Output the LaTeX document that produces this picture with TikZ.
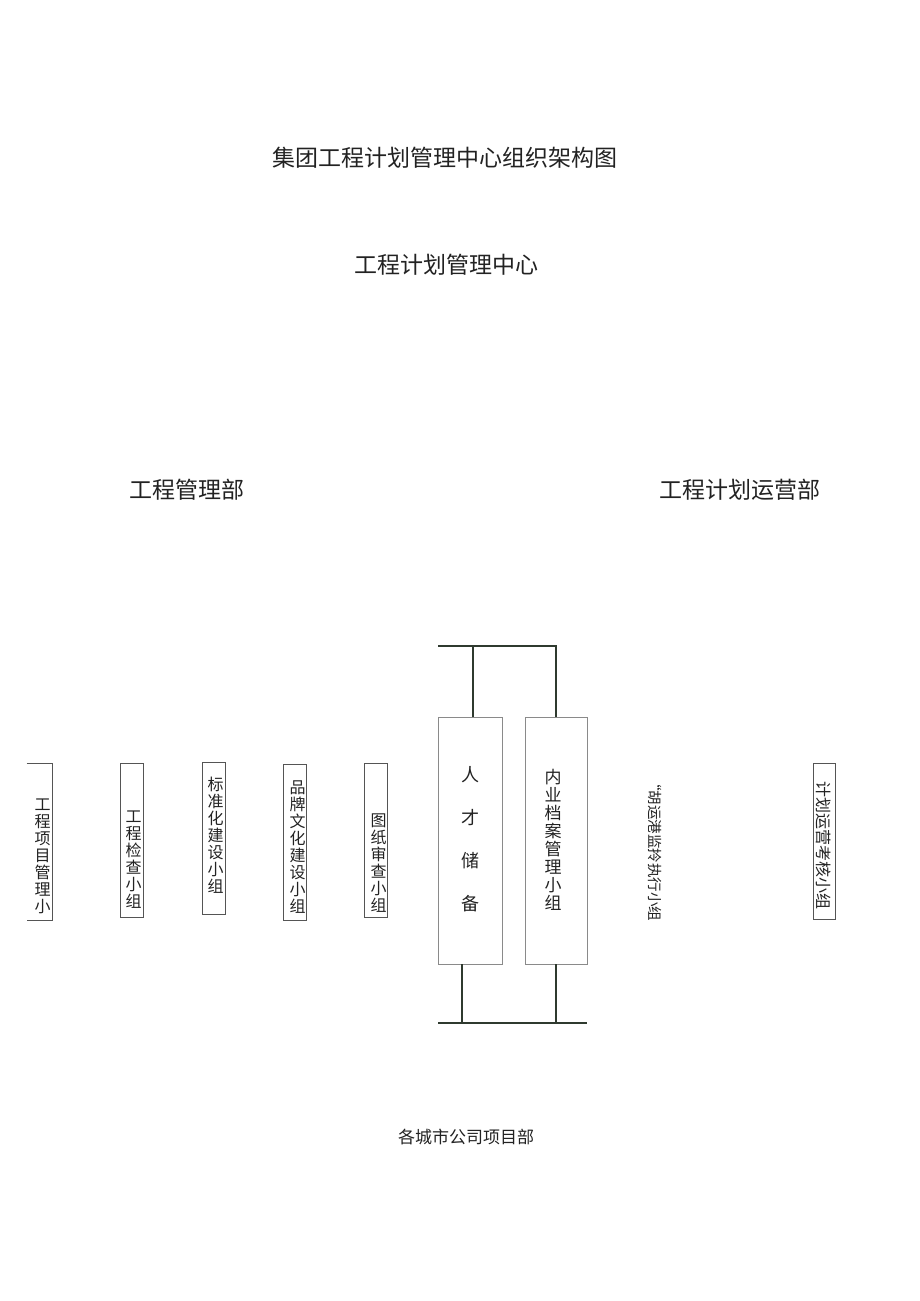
\documentclass[tikz,border=0pt]{standalone}
\usepackage{fontspec}
\setmainfont{Noto Sans CJK SC}
\XeTeXlinebreaklocale "zh"
\XeTeXlinebreakskip=0pt plus 1pt
\definecolor{ocLine}{HTML}{2F3A2F}
\definecolor{ocBox}{HTML}{555555}
\definecolor{ocFrame}{HTML}{8A8A8A}
\definecolor{ocText}{HTML}{222222}
\usetikzlibrary{positioning}
\tikzset{
  grpbox/.style={draw=ocBox, line width=0.9pt, inner sep=0pt, minimum width=23pt, minimum height=154pt},
  stackchars/.style={inner sep=0pt, anchor=north, text width=1.1em, align=center, text=ocText, font=\fontsize{16}{17}\selectfont},
  sidechars/.style={inner sep=0pt, anchor=west, rotate=-90, text=ocText, font=\fontsize{14.5}{17}\selectfont},
  link/.style={draw=ocLine, line width=1.5pt},
}

\begin{document}
\begin{tikzpicture}[x=1pt,y=-1pt]
  \useasboundingbox (0,0) rectangle (920,1301);
  % headings
  \node[text=ocText, font=\fontsize{23}{26}\selectfont] (title) at (445,158) {集团工程计划管理中心组织架构图};
  \node[text=ocText, font=\fontsize{23}{26}\selectfont] (center) at (446,265) {工程计划管理中心};
  \node[text=ocText, font=\fontsize{23}{26}\selectfont] (gcglb) at (187,490) {工程管理部};
  \node[text=ocText, font=\fontsize{23}{26}\selectfont] (jhyyb) at (740,490) {工程计划运营部};
  \node[text=ocText, font=\fontsize{17}{20}\selectfont] (city) at (466,1137) {各城市公司项目部};

  % left groups
  \node[grpbox, draw=none, minimum width=25pt, minimum height=156pt] (xmgl) at (39.5,842) {};
  \draw[ocBox, line width=0.9pt] (xmgl.north west) -- (xmgl.north east) -- (xmgl.south east) -- (xmgl.south west);
  \node[stackchars] (xmglT) at (40,799) {工程项目管理小};
  \node[grpbox] (gcjc) at (131.5,840) {};
  \node[stackchars] (gcjcT) at (131,811) {工程检查小组};
  \node[grpbox, minimum height=152pt] (bzh) at (213.5,838) {};
  \node[stackchars] (bzhT) at (213,777) {标准化建设小组};
  \node[grpbox, minimum height=156pt] (ppwh) at (294.5,842) {};
  \node[stackchars] (ppwhT) at (295,781) {品牌文化建设小组};
  \node[grpbox] (tzsc) at (375.5,840) {};
  \node[stackchars] (tzscT) at (376,814) {图纸审查小组};

  % middle groups
  \node[grpbox, draw=ocFrame, minimum width=64pt, minimum height=247pt] (rcbb) at (470,840.5) {};
  \node[stackchars, font=\fontsize{18}{43}\selectfont] (rcbbT) at (467,766) {人才储备};
  \node[grpbox, draw=ocFrame, minimum width=62pt, minimum height=247pt] (nyda) at (556,840.5) {};
  \node[stackchars, font=\fontsize{17}{18}\selectfont] (nydaT) at (550,769) {内业档案管理小组};
  \coordinate (topL) at (438,646);
  \coordinate (topR) at (557,646);
  \coordinate (botL) at (438,1023);
  \coordinate (botR) at (587,1023);
  \draw[link] (topL) -- (topR);
  \draw[link] ([xshift=3pt]rcbb.north) -- ([xshift=3pt]rcbb.north |- topL);
  \draw[link] (nyda.north) -- (nyda.north |- topR);
  \draw[link] ([xshift=-8pt]rcbb.south) -- ([xshift=-8pt]rcbb.south |- botL);
  \draw[link] (nyda.south) -- (nyda.south |- botR);
  \draw[link] (botL) -- (botR);

  % right groups
  \node[sidechars] (jdzx) at (655,776) {“胡运港监拎执行小组};
  \node[grpbox, minimum width=22pt, minimum height=156pt] (khxz) at (824,841) {};
  \node[sidechars, font=\fontsize{16}{17}\selectfont] (khxzT) at (824,781) {计划运营考核小组};
\end{tikzpicture}
\end{document}
